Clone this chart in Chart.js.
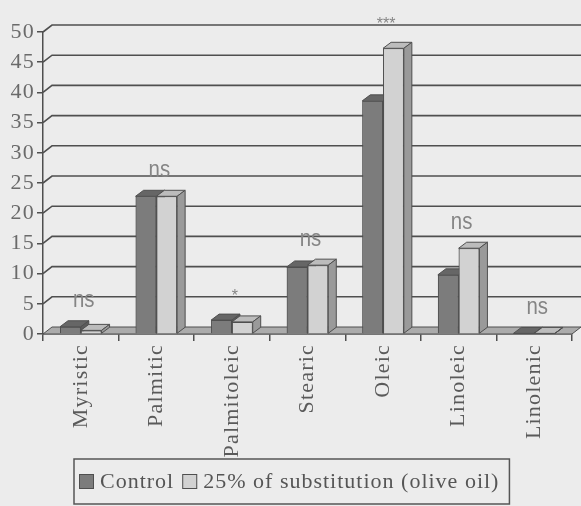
<!DOCTYPE html>
<html>
<head>
<meta charset="utf-8">
<script src="https://cdn.jsdelivr.net/npm/chart.js@4.4.0/dist/chart.umd.min.js"></script>
<style>
    html, body { margin: 0; padding: 0; background: #ececec; }
    #grafico-wrap { width: 581px; height: 506px; }
</style>
</head>
<body>
<div id="grafico-wrap"><canvas id="grafico-acidos"></canvas></div>
<script>
// ========================================
// Dados: ácidos graxos (%)
// ========================================
const acidos = ['Myristic', 'Palmitic', 'Palmitoleic', 'Stearic', 'Oleic', 'Linoleic', 'Linolenic'];
const controle = [1.2, 22.8, 2.3, 11.1, 38.6, 9.8, 0.1];
const azeite = [0.6, 22.8, 2.0, 11.4, 47.3, 14.2, 0.1];
const significancia = ['ns', 'ns', '*', 'ns', '***', 'ns', 'ns'];
const valoresEixoY = [0, 5, 10, 15, 20, 25, 30, 35, 40, 45, 50];
const nomesSeries = ['Control', '25% of substitution (olive oil)'];

// profundidade do "3D" (parede e barras)
const PAREDE_DX = 9, PAREDE_DY = 7;
const BARRA_DX = 8, BARRA_DY = 6;
const CINZA_LINHA = '#4f4f4f';
const FONTE_SERIF = '"Liberation Serif", "Times New Roman", serif';
const ESPACO_EIXOS = '1.2px';   // o texto do original é mais "esticado"
const ESPACO_LEGENDA = '1px';

// cores: frente, topo, lateral
const coresSeries = [
    { frente: '#7c7c7c', topo: '#666666', lado: '#5c5c5c' },
    { frente: '#d2d2d2', topo: '#bcbcbc', lado: '#9a9a9a' }
];

// Espaçamento de letras para os textos do Chart.js
const textoEsticado = {
    id: 'textoEsticado',
    beforeDraw(chart) {
        chart.ctx.letterSpacing = ESPACO_EIXOS;
    }
};

// Parede do fundo + piso
const paredes3d = {
    id: 'paredes3d',
    beforeDatasetsDraw(chart) {
        const { ctx, chartArea: a, scales: { y } } = chart;
        const y0 = y.getPixelForValue(0);
        ctx.save();
        ctx.beginPath();
        ctx.moveTo(a.left, y0);
        ctx.lineTo(a.left + PAREDE_DX, y0 - PAREDE_DY);
        ctx.lineTo(a.right + PAREDE_DX, y0 - PAREDE_DY);
        ctx.lineTo(a.right, y0);
        ctx.closePath();
        ctx.fillStyle = '#ababab';
        ctx.fill();
        ctx.strokeStyle = CINZA_LINHA;
        ctx.lineWidth = 1;
        ctx.stroke();

        ctx.lineWidth = 1.6;
        y.ticks.forEach(t => {
            if (t.value === 0) return;
            const py = y.getPixelForValue(t.value);
            ctx.beginPath();
            ctx.moveTo(a.left, py);
            ctx.lineTo(a.left + PAREDE_DX, py - PAREDE_DY);
            ctx.lineTo(a.right + PAREDE_DX, py - PAREDE_DY);
            ctx.stroke();
        });
        ctx.restore();
    }
};

// Redesenha as barras na ordem certa, com topo e lateral
const barras3d = {
    id: 'barras3d',
    afterDatasetsDraw(chart) {
        const ctx = chart.ctx;
        ctx.save();
        chart.data.datasets.forEach((ds, di) => {
            const meta = chart.getDatasetMeta(di);
            const cor = coresSeries[di];
            meta.data.forEach(bar => {
                bar.draw(ctx);
                const { x, y, base, width } = bar.getProps(['x', 'y', 'base', 'width'], true);
                const esq = x - width / 2, dir = x + width / 2;
                ctx.strokeStyle = CINZA_LINHA;
                ctx.lineWidth = 1;
                // topo
                ctx.beginPath();
                ctx.moveTo(esq, y);
                ctx.lineTo(esq + BARRA_DX, y - BARRA_DY);
                ctx.lineTo(dir + BARRA_DX, y - BARRA_DY);
                ctx.lineTo(dir, y);
                ctx.closePath();
                ctx.fillStyle = cor.topo;
                ctx.fill();
                ctx.stroke();
                // lateral
                ctx.beginPath();
                ctx.moveTo(dir, y);
                ctx.lineTo(dir + BARRA_DX, y - BARRA_DY);
                ctx.lineTo(dir + BARRA_DX, base - BARRA_DY);
                ctx.lineTo(dir, base);
                ctx.closePath();
                ctx.fillStyle = cor.lado;
                ctx.fill();
                ctx.stroke();
            });
        });
        ctx.restore();
    }
};

// Marcas de significância (ns, *, ***)
const marcasSignificancia = {
    id: 'marcasSignificancia',
    afterDatasetsDraw(chart) {
        const { ctx, scales: { x, y } } = chart;
        significancia.forEach((txt, i) => {
            const maior = Math.max(controle[i], azeite[i]);
            const px = x.getPixelForValue(i) + 3;
            const py = y.getPixelForValue(maior) - BARRA_DY - 20;
            const asterisco = txt.startsWith('*');
            ctx.save();
            ctx.letterSpacing = '0px';
            ctx.fillStyle = '#858585';
            ctx.textAlign = 'center';
            ctx.textBaseline = 'middle';
            ctx.translate(px, asterisco ? py + 2 : py);
            ctx.scale(asterisco ? 1 : 0.85, 1);
            ctx.font = asterisco
                ? '16px "Liberation Sans", Arial, sans-serif'
                : '24px "Liberation Sans", Arial, sans-serif';
            ctx.fillText(txt, 0, 0);
            ctx.restore();
        });
    }
};

// Legenda com moldura (estilo Excel)
const legendaMoldura = {
    id: 'legendaMoldura',
    afterDraw(chart) {
        const ctx = chart.ctx;
        const topo = chart.height - 47;
        const base = chart.height - 2;
        const meio = (topo + base) / 2;
        let px = 79;
        ctx.save();
        ctx.letterSpacing = ESPACO_LEGENDA;
        ctx.font = '22px ' + FONTE_SERIF;
        ctx.textBaseline = 'middle';
        ctx.textAlign = 'left';
        const inicio = px - 5;
        nomesSeries.forEach((nome, i) => {
            ctx.fillStyle = coresSeries[i].frente;
            ctx.fillRect(px, meio - 7.5, 15, 15);
            ctx.strokeStyle = CINZA_LINHA;
            ctx.lineWidth = 1;
            ctx.strokeRect(px + 0.5, meio - 7, 14, 14);
            px += 21;
            ctx.fillStyle = '#555555';
            ctx.fillText(nome, px, meio + 1);
            px += ctx.measureText(nome).width + 8;
        });
        ctx.strokeStyle = '#555555';
        ctx.lineWidth = 1.5;
        ctx.strokeRect(inicio, topo, px - inicio + 2, base - topo);
        ctx.restore();
    }
};

function renderizarGraficoAcidos() {
    const ctx = document.getElementById('grafico-acidos').getContext('2d');
    return new Chart(ctx, {
        type: 'bar',
        data: {
            labels: acidos,
            datasets: [
                {
                    label: nomesSeries[0],
                    data: controle,
                    backgroundColor: coresSeries[0].frente,
                    borderColor: CINZA_LINHA,
                    borderWidth: 1
                },
                {
                    label: nomesSeries[1],
                    data: azeite,
                    backgroundColor: coresSeries[1].frente,
                    borderColor: CINZA_LINHA,
                    borderWidth: 1
                }
            ]
        },
        options: {
            responsive: true,
            maintainAspectRatio: false,
            animation: false,
            layout: { padding: { top: 32, right: 9, bottom: 47, left: 0 } },
            datasets: { bar: { categoryPercentage: 0.55, barPercentage: 1.0 } },
            plugins: {
                legend: { display: false },
                tooltip: { enabled: false }
            },
            scales: {
                x: {
                    offset: true,
                    grid: {
                        offset: true,
                        drawOnChartArea: false,
                        drawTicks: true,
                        tickLength: 7,
                        color: CINZA_LINHA,
                        lineWidth: 1.5
                    },
                    border: { display: true, color: CINZA_LINHA, width: 1.5 },
                    ticks: {
                        minRotation: 90,
                        maxRotation: 90,
                        autoSkip: false,
                        padding: 3,
                        color: '#5a5a5a',
                        font: { family: FONTE_SERIF, size: 22 }
                    },
                    afterFit: s => { s.height = 125; s.paddingLeft = 0; s.paddingRight = 0; }
                },
                y: {
                    min: 0,
                    max: 50,
                    afterBuildTicks: s => { s.ticks = valoresEixoY.map(v => ({ value: v })); },
                    grid: {
                        drawOnChartArea: false,
                        drawTicks: true,
                        tickLength: 6,
                        color: CINZA_LINHA,
                        lineWidth: 1.5
                    },
                    border: { display: true, color: CINZA_LINHA, width: 1.5 },
                    ticks: {
                        padding: 2,
                        color: '#6a6a6a',
                        font: { family: FONTE_SERIF, size: 22 }
                    },
                    afterFit: s => { s.width = 43; }
                }
            }
        },
        plugins: [textoEsticado, paredes3d, barras3d, marcasSignificancia, legendaMoldura]
    });
}

renderizarGraficoAcidos();
</script>
</body>
</html>
